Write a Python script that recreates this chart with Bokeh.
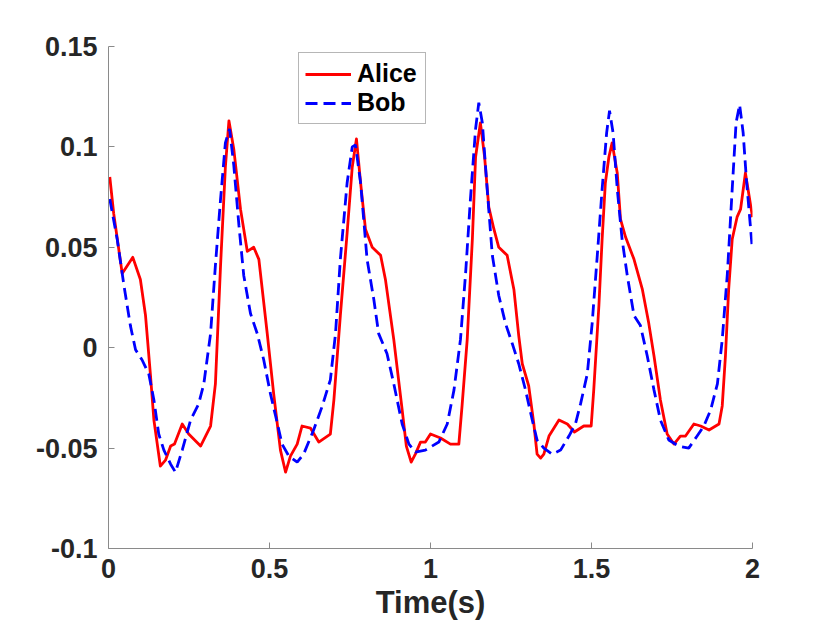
from bokeh.plotting import figure
from bokeh.models import FixedTicker, Legend, LegendItem
from bokeh.embed import file_html
from bokeh.resources import INLINE

# Alice (red solid)
alice_t = [0.004, 0.016, 0.0425, 0.0755, 0.099, 0.115, 0.130, 0.141, 0.161, 0.177, 0.193, 0.205,
           0.229, 0.249, 0.286, 0.317, 0.332, 0.348, 0.363, 0.374, 0.389, 0.410, 0.431, 0.451,
           0.467, 0.493, 0.513, 0.534, 0.550, 0.565, 0.586, 0.601, 0.627, 0.653, 0.689, 0.700,
           0.720, 0.741, 0.757, 0.770, 0.783, 0.798, 0.819, 0.845, 0.860, 0.886, 0.912, 0.925,
           0.940, 0.953, 0.969, 0.984, 1.000, 1.031, 1.062, 1.088, 1.098, 1.114, 1.130, 1.140,
           1.155, 1.168, 1.181, 1.197, 1.212, 1.238, 1.259, 1.274, 1.285, 1.305, 1.321, 1.331,
           1.342, 1.352, 1.368, 1.399, 1.425, 1.447, 1.476, 1.499, 1.507, 1.523, 1.533, 1.543,
           1.554, 1.564, 1.580, 1.590, 1.606, 1.632, 1.658, 1.678, 1.694, 1.714, 1.735, 1.756,
           1.776, 1.792, 1.818, 1.839, 1.865, 1.896, 1.906, 1.916, 1.926, 1.937, 1.952, 1.963,
           1.978, 1.989, 2.000]
alice_v = [0.085, 0.067, 0.037, 0.045, 0.034, 0.016, -0.013, -0.036, -0.059, -0.056, -0.049, -0.048,
           -0.038, -0.043, -0.049, -0.039, -0.018, 0.041, 0.090, 0.113, 0.099, 0.069, 0.048, 0.050,
           0.044, 0.007, -0.023, -0.051, -0.062, -0.054, -0.048, -0.039, -0.040, -0.047, -0.043, -0.026,
           0.016, 0.057, 0.090, 0.104, 0.082, 0.059, 0.050, 0.046, 0.034, 0.004, -0.031, -0.049,
           -0.057, -0.053, -0.047, -0.047, -0.043, -0.045, -0.048, -0.048, -0.029, 0.004, 0.054, 0.095,
           0.112, 0.095, 0.070, 0.059, 0.050, 0.046, 0.029, 0.006, -0.008, -0.019, -0.038, -0.053,
           -0.055, -0.053, -0.044, -0.036, -0.038, -0.042, -0.039, -0.039, -0.021, 0.021, 0.054, 0.082,
           0.095, 0.102, 0.087, 0.064, 0.055, 0.044, 0.029, 0.012, -0.004, -0.026, -0.043, -0.048,
           -0.044, -0.044, -0.038, -0.039, -0.041, -0.038, -0.029, -0.004, 0.029, 0.054, 0.065, 0.069,
           0.087, 0.076, 0.065]

# Bob (blue dashed)
bob_t = [0.004, 0.027, 0.048, 0.068, 0.084, 0.104, 0.125, 0.141, 0.156, 0.172, 0.193, 0.208,
         0.229, 0.255, 0.280, 0.296, 0.317, 0.332, 0.348, 0.363, 0.376, 0.389, 0.405, 0.420,
         0.441, 0.462, 0.482, 0.503, 0.519, 0.539, 0.560, 0.586, 0.606, 0.637, 0.664, 0.689,
         0.705, 0.720, 0.741, 0.757, 0.767, 0.783, 0.803, 0.824, 0.839, 0.865, 0.886, 0.912,
         0.933, 0.953, 0.984, 1.026, 1.052, 1.073, 1.093, 1.109, 1.124, 1.140, 1.150, 1.161,
         1.176, 1.192, 1.212, 1.233, 1.254, 1.274, 1.295, 1.316, 1.331, 1.352, 1.378, 1.404,
         1.430, 1.450, 1.466, 1.487, 1.502, 1.518, 1.533, 1.547, 1.556, 1.567, 1.580, 1.595,
         1.611, 1.632, 1.652, 1.673, 1.694, 1.714, 1.740, 1.771, 1.802, 1.828, 1.849, 1.870,
         1.891, 1.906, 1.922, 1.937, 1.949, 1.960, 1.971, 1.981, 1.999]
bob_v = [0.074, 0.054, 0.031, 0.011, -0.001, -0.006, -0.013, -0.026, -0.043, -0.051, -0.058, -0.062,
         -0.051, -0.036, -0.028, -0.018, 0.007, 0.041, 0.074, 0.102, 0.109, 0.091, 0.061, 0.036,
         0.017, 0.007, -0.006, -0.023, -0.034, -0.048, -0.054, -0.057, -0.053, -0.041, -0.029, -0.016,
         0.007, 0.044, 0.082, 0.100, 0.101, 0.082, 0.044, 0.024, 0.007, -0.003, -0.018, -0.038,
         -0.048, -0.052, -0.051, -0.047, -0.038, -0.021, 0.004, 0.037, 0.074, 0.109, 0.122, 0.112,
         0.079, 0.046, 0.026, 0.012, 0.002, -0.008, -0.021, -0.036, -0.046, -0.050, -0.053, -0.051,
         -0.044, -0.038, -0.028, -0.013, 0.012, 0.046, 0.079, 0.107, 0.118, 0.107, 0.079, 0.054,
         0.036, 0.016, 0.011, -0.004, -0.021, -0.036, -0.046, -0.049, -0.050, -0.044, -0.039, -0.031,
         -0.018, 0.004, 0.037, 0.079, 0.112, 0.121, 0.107, 0.084, 0.050]

x_ticks = [0, 0.5, 1, 1.5, 2]
x_tick_labels = ["0", "0.5", "1", "1.5", "2"]
y_ticks = [-0.1, -0.05, 0, 0.05, 0.1, 0.15]
y_tick_labels = ["-0.1", "-0.05", "0", "0.05", "0.1", "0.15"]
series_names = ["Alice", "Bob"]

FONT = "Liberation Sans"
AXIS_COLOR = "#8a8a8a"
TEXT_COLOR = "#262626"

p = figure(width=830, height=623, x_range=(0, 2), y_range=(-0.1, 0.15),
           output_backend="svg", toolbar_location=None, title=None,
           min_border_left=108, min_border_right=78, min_border_top=46, min_border_bottom=75)
p.outline_line_color = None
p.xgrid.grid_line_color = None
p.ygrid.grid_line_color = None
p.background_fill_color = "white"
p.border_fill_color = "white"

r_alice = p.line(alice_t, alice_v, line_color="#ff0000", line_width=2.8, line_join="round")
r_bob = p.line(bob_t, bob_v, line_color="#0000ff", line_width=2.8, line_dash="12 6")

for ax in (p.xaxis[0], p.yaxis[0]):
    ax.axis_line_color = AXIS_COLOR
    ax.axis_line_width = 1
    ax.major_tick_line_color = AXIS_COLOR
    ax.major_tick_in = 6
    ax.major_tick_out = 0
    ax.minor_tick_line_color = None
    ax.major_label_text_font = FONT
    ax.major_label_text_font_style = "bold"
    ax.major_label_text_font_size = "27px"
    ax.major_label_text_color = TEXT_COLOR

p.xaxis[0].ticker = FixedTicker(ticks=x_ticks)
p.xaxis[0].major_label_overrides = {t: l for t, l in zip(x_ticks, x_tick_labels)}
p.yaxis[0].ticker = FixedTicker(ticks=y_ticks)
p.yaxis[0].major_label_overrides = {t: l for t, l in zip(y_ticks, y_tick_labels)}
p.yaxis[0].major_label_standoff = 11
p.xaxis[0].major_label_standoff = 10

p.xaxis[0].axis_label = "Time(s)"
p.xaxis[0].axis_label_text_font = FONT
p.xaxis[0].axis_label_text_font_style = "bold"
p.xaxis[0].axis_label_text_font_size = "31px"
p.xaxis[0].axis_label_text_color = TEXT_COLOR
p.xaxis[0].axis_label_standoff = 4

legend = Legend(items=[LegendItem(label=series_names[0], renderers=[r_alice]),
                       LegendItem(label=series_names[1], renderers=[r_bob])],
                location=(190, 424))
legend.label_text_font = FONT
legend.label_text_font_style = "bold"
legend.label_text_font_size = "25px"
legend.label_text_color = "black"
legend.glyph_width = 46
legend.glyph_height = 24
legend.label_height = 24
legend.label_width = 62
legend.label_standoff = 6
legend.padding = 6
legend.spacing = -5
legend.margin = 0
legend.border_line_color = "#6e6e6e"
legend.border_line_width = 1
legend.background_fill_alpha = 1
p.add_layout(legend)

open("out.html", "w").write(file_html(p, INLINE))
